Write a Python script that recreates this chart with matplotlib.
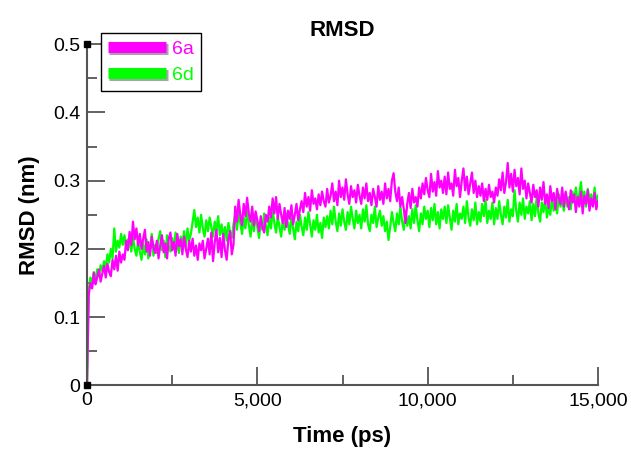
import numpy as np
import matplotlib
matplotlib.use("Agg")
import matplotlib.pyplot as plt
import matplotlib.patheffects as pe
from matplotlib.lines import Line2D

# sampling times (ps), one value every 50 ps
time_ps = np.arange(0, 15001, 50)

# RMSD (nm) of 6a (rows of 500 ps)
rmsd_6a = [
    0.000,
    0.132, 0.150, 0.142, 0.165, 0.148, 0.158, 0.170, 0.152, 0.164, 0.175,
    0.158, 0.178, 0.166, 0.160, 0.184, 0.170, 0.190, 0.168, 0.196, 0.180,
    0.192, 0.184, 0.212, 0.198, 0.225, 0.206, 0.240, 0.214, 0.230, 0.205,
    0.222, 0.200, 0.215, 0.228, 0.196, 0.210, 0.190, 0.218, 0.202, 0.194,
    0.212, 0.186, 0.205, 0.220, 0.195, 0.208, 0.186, 0.215, 0.224, 0.198,
    0.210, 0.190, 0.222, 0.204, 0.214, 0.192, 0.218, 0.200, 0.188, 0.212,
    0.196, 0.215, 0.190, 0.205, 0.184, 0.208, 0.198, 0.212, 0.186, 0.200,
    0.215, 0.192, 0.224, 0.182, 0.210, 0.228, 0.195, 0.216, 0.188, 0.222,
    0.198, 0.184, 0.214, 0.226, 0.192, 0.206, 0.262, 0.240, 0.272, 0.250,
    0.235, 0.266, 0.248, 0.275, 0.252, 0.240, 0.262, 0.234, 0.255, 0.242,
    0.226, 0.248, 0.232, 0.224, 0.250, 0.240, 0.262, 0.246, 0.274, 0.252,
    0.276, 0.244, 0.266, 0.250, 0.238, 0.260, 0.232, 0.256, 0.244, 0.264,
    0.236, 0.250, 0.266, 0.242, 0.258, 0.270, 0.254, 0.282, 0.262, 0.276,
    0.256, 0.286, 0.266, 0.274, 0.258, 0.280, 0.264, 0.284, 0.270, 0.262,
    0.288, 0.268, 0.278, 0.296, 0.270, 0.284, 0.264, 0.300, 0.276, 0.290,
    0.272, 0.302, 0.280, 0.266, 0.292, 0.276, 0.286, 0.268, 0.294, 0.278,
    0.266, 0.290, 0.274, 0.296, 0.270, 0.282, 0.264, 0.288, 0.276, 0.262,
    0.292, 0.272, 0.284, 0.266, 0.296, 0.274, 0.288, 0.270, 0.300, 0.311,
    0.284, 0.270, 0.290, 0.262, 0.276, 0.258, 0.238, 0.266, 0.282, 0.260,
    0.288, 0.268, 0.276, 0.262, 0.290, 0.274, 0.296, 0.280, 0.304, 0.286,
    0.276, 0.310, 0.284, 0.298, 0.278, 0.314, 0.290, 0.300, 0.282, 0.306,
    0.280, 0.312, 0.288, 0.296, 0.278, 0.316, 0.292, 0.304, 0.276, 0.300,
    0.318, 0.286, 0.306, 0.280, 0.296, 0.312, 0.282, 0.300, 0.276, 0.292,
    0.278, 0.296, 0.270, 0.288, 0.272, 0.294, 0.276, 0.284, 0.268, 0.290,
    0.278, 0.302, 0.286, 0.312, 0.282, 0.298, 0.326, 0.290, 0.310, 0.284,
    0.316, 0.292, 0.304, 0.280, 0.318, 0.288, 0.300, 0.274, 0.296, 0.282,
    0.268, 0.294, 0.276, 0.286, 0.262, 0.290, 0.272, 0.298, 0.266, 0.280,
    0.260, 0.292, 0.270, 0.282, 0.258, 0.288, 0.274, 0.266, 0.290, 0.262,
    0.284, 0.270, 0.258, 0.286, 0.268, 0.280, 0.254, 0.276, 0.262, 0.284,
    0.252, 0.278, 0.266, 0.286, 0.256, 0.274, 0.262, 0.282, 0.258, 0.270,
]

# RMSD (nm) of 6d
rmsd_6d = [
    0.000,
    0.140, 0.158, 0.150, 0.166, 0.155, 0.170, 0.160, 0.176, 0.168, 0.182,
    0.172, 0.192, 0.180, 0.200, 0.186, 0.230, 0.196, 0.212, 0.202, 0.222,
    0.206, 0.220, 0.200, 0.214, 0.208, 0.196, 0.218, 0.200, 0.190, 0.212,
    0.196, 0.184, 0.208, 0.192, 0.214, 0.186, 0.200, 0.222, 0.190, 0.206,
    0.194, 0.215, 0.226, 0.198, 0.212, 0.188, 0.220, 0.204, 0.196, 0.216,
    0.200, 0.224, 0.206, 0.194, 0.218, 0.208, 0.226, 0.202, 0.230, 0.212,
    0.222, 0.240, 0.257, 0.232, 0.246, 0.224, 0.250, 0.230, 0.218, 0.242,
    0.226, 0.246, 0.232, 0.218, 0.240, 0.226, 0.248, 0.220, 0.236, 0.216,
    0.232, 0.212, 0.238, 0.224, 0.216, 0.236, 0.250, 0.228, 0.254, 0.238,
    0.222, 0.246, 0.230, 0.256, 0.236, 0.218, 0.244, 0.226, 0.250, 0.232,
    0.216, 0.240, 0.228, 0.252, 0.234, 0.220, 0.246, 0.230, 0.256, 0.238,
    0.224, 0.248, 0.232, 0.218, 0.244, 0.228, 0.252, 0.236, 0.222, 0.246,
    0.230, 0.214, 0.240, 0.226, 0.250, 0.232, 0.220, 0.246, 0.228, 0.254,
    0.236, 0.218, 0.242, 0.228, 0.250, 0.224, 0.238, 0.216, 0.246, 0.232,
    0.248, 0.230, 0.256, 0.236, 0.262, 0.240, 0.226, 0.252, 0.234, 0.258,
    0.240, 0.228, 0.254, 0.236, 0.262, 0.244, 0.230, 0.256, 0.238, 0.250,
    0.230, 0.258, 0.240, 0.264, 0.236, 0.226, 0.250, 0.238, 0.262, 0.232,
    0.246, 0.256, 0.234, 0.248, 0.226, 0.240, 0.213, 0.232, 0.254, 0.238,
    0.226, 0.252, 0.236, 0.262, 0.240, 0.228, 0.256, 0.234, 0.248, 0.230,
    0.258, 0.238, 0.264, 0.242, 0.226, 0.252, 0.236, 0.262, 0.244, 0.256,
    0.232, 0.260, 0.242, 0.266, 0.236, 0.254, 0.230, 0.258, 0.244, 0.262,
    0.238, 0.264, 0.246, 0.228, 0.256, 0.240, 0.266, 0.236, 0.252, 0.244,
    0.262, 0.238, 0.270, 0.246, 0.234, 0.258, 0.242, 0.268, 0.236, 0.254,
    0.240, 0.266, 0.248, 0.272, 0.238, 0.256, 0.244, 0.268, 0.236, 0.260,
    0.244, 0.270, 0.250, 0.236, 0.262, 0.246, 0.272, 0.240, 0.258, 0.248,
    0.286, 0.256, 0.240, 0.268, 0.250, 0.274, 0.244, 0.262, 0.252, 0.270,
    0.242, 0.266, 0.248, 0.276, 0.252, 0.240, 0.268, 0.254, 0.274, 0.246,
    0.262, 0.250, 0.276, 0.256, 0.268, 0.252, 0.280, 0.262, 0.272, 0.256,
    0.282, 0.262, 0.276, 0.258, 0.284, 0.268, 0.290, 0.266, 0.280, 0.298,
    0.270, 0.284, 0.262, 0.288, 0.272, 0.280, 0.264, 0.290, 0.268, 0.278,
]

x_ticks = [0, 5000, 10000, 15000]
x_ticklabels = ["0", "5,000", "10,000", "15,000"]
y_ticks = [0, 0.1, 0.2, 0.3, 0.4, 0.5]
y_ticklabels = ["0", "0.1", "0.2", "0.3", "0.4", "0.5"]

C = {"6a": "#ff00ff", "6d": "#00ff00"}
AX_GRAY = "#555555"

plt.rcParams["font.family"] = ["Liberation Sans", "DejaVu Sans"]

fig = plt.figure(figsize=(6.31, 4.51), dpi=100)
ax = fig.add_axes([87 / 631, 65.7 / 451, 511 / 631, 341 / 451])

ax.plot(time_ps, rmsd_6d, color=C["6d"], lw=1.6)
ax.plot(time_ps, rmsd_6a, color=C["6a"], lw=1.6)

ax.set_xlim(0, 15000)
ax.set_ylim(0, 0.5)
for s in ["top", "right"]:
    ax.spines[s].set_visible(False)
for s in ["left", "bottom"]:
    ax.spines[s].set_color(AX_GRAY)
    ax.spines[s].set_linewidth(1.5)

ax.set_xticks(x_ticks)
ax.set_xticklabels(x_ticklabels)
ax.set_xticks([2500, 7500, 12500], minor=True)
ax.set_yticks(y_ticks)
ax.set_yticklabels(y_ticklabels)
ax.set_yticks([0.05, 0.15, 0.25, 0.35, 0.45], minor=True)
ax.tick_params(which="major", direction="in", length=13, width=1.3, color=AX_GRAY,
               labelsize=14, pad=5)
ax.tick_params(which="minor", direction="in", length=7, width=1.3, color=AX_GRAY)

# little square markers at the axis ends, as in the original
ax.plot([0, 0], [0, 0.5], ls="none", marker="s", ms=5, color="black", clip_on=False, zorder=5)

ax.set_xlabel("Time (ps)", fontsize=16, fontweight="bold", labelpad=12)
ax.set_ylabel("RMSD (nm)", fontsize=16, fontweight="bold", labelpad=9)
ax.set_title("RMSD", fontsize=16, fontweight="bold", pad=6)

shadow = [pe.SimpleLineShadow(offset=(1, -1.5), alpha=0.35), pe.Normal()]
handles = [Line2D([], [], color=C[k], lw=8, solid_capstyle="butt", path_effects=shadow)
           for k in ["6a", "6d"]]
leg = ax.legend(handles, ["6a", "6d"], loc="upper left", bbox_to_anchor=(101 / 631, 1 - 33 / 451),
                bbox_transform=fig.transFigure, fontsize=14, handlelength=3.0,
                handletextpad=0.3, labelspacing=0.45, borderpad=0.36, borderaxespad=0,
                fancybox=False, framealpha=1, labelcolor="linecolor")
leg.get_frame().set_edgecolor("black")
leg.get_frame().set_linewidth(1.0)

fig.savefig("out.png", dpi=100)
